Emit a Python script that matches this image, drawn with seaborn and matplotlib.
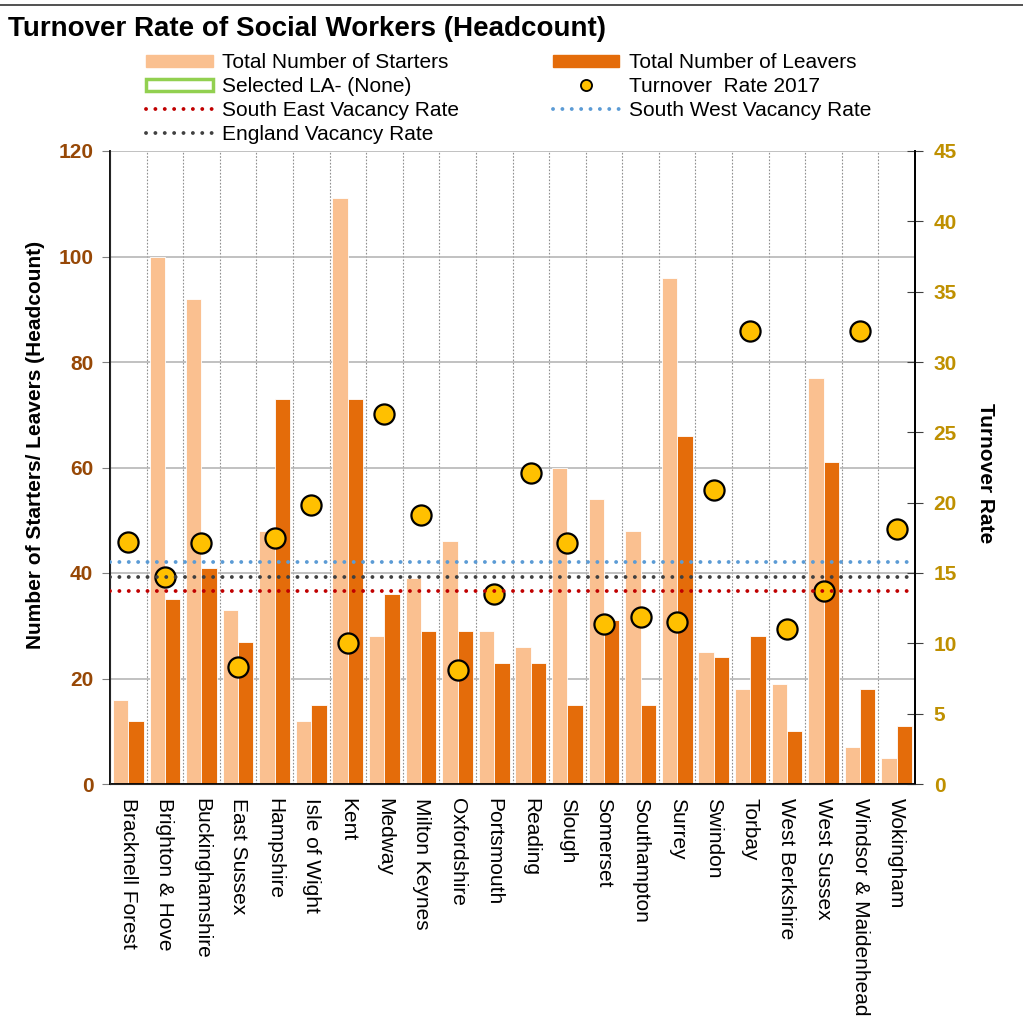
import numpy as np
import pandas as pd
import seaborn as sns
import matplotlib.pyplot as plt
from matplotlib.patches import Patch
from matplotlib.lines import Line2D

las = ["Bracknell Forest", "Brighton & Hove", "Buckinghamshire", "East Sussex",
       "Hampshire", "Isle of Wight", "Kent", "Medway", "Milton Keynes",
       "Oxfordshire", "Portsmouth", "Reading", "Slough", "Somerset",
       "Southampton", "Surrey", "Swindon", "Torbay", "West Berkshire",
       "West Sussex", "Windsor & Maidenhead", "Wokingham"]
starters = [16, 100, 92, 33, 48, 12, 111, 28, 39, 46, 29, 26, 60, 54, 48, 96, 25, 18, 19, 77, 7, 5]
leavers = [12, 35, 41, 27, 73, 15, 73, 36, 29, 29, 23, 23, 15, 31, 15, 66, 24, 28, 10, 61, 18, 11]
turnover = [17.2, 14.7, 17.1, 8.3, 17.5, 19.8, 10.0, 26.3, 19.1, 8.1, 13.5, 22.1,
            17.1, 11.4, 11.9, 11.5, 20.9, 32.2, 11.0, 13.7, 32.2, 18.1]
se_rate = 13.7
sw_rate = 15.8
eng_rate = 14.7

c_start = "#FAC090"
c_leave = "#E46C0A"
c_dot = "#FFC000"
c_left = "#974806"
c_right = "#BF9000"

sns.set_style("white")
plt.rcParams["font.family"] = ["Liberation Sans", "DejaVu Sans"]
plt.rcParams["text.color"] = "black"
plt.rcParams["axes.labelcolor"] = "black"
plt.rcParams["xtick.color"] = "black"

df = pd.DataFrame({"LA": las * 2,
                   "count": starters + leavers,
                   "series": ["Total Number of Starters"] * len(las) + ["Total Number of Leavers"] * len(las)})

fig = plt.figure(figsize=(10.23, 10.25), dpi=100)
ax = fig.add_axes([110 / 1023, 1 - 784 / 1025, 805 / 1023, 633 / 1025])

sns.barplot(data=df, x="LA", y="count", hue="series", order=las,
            palette=[c_start, c_leave], saturation=1, width=0.84,
            edgecolor="white", linewidth=0.6, legend=False, ax=ax, zorder=2)

ax.set_xlim(-0.5, len(las) - 0.5)
ax.set_ylim(0, 120)
ax.set_yticks(np.arange(0, 121, 20))
ax.set_xticks(np.arange(len(las)))
ax.set_xticklabels(las, rotation=-90, fontsize=15, ha="center", va="top", color="black")
ax.set_xticks(np.arange(len(las) - 1) + 0.5, minor=True)
ax.tick_params(axis="x", which="both", length=0, pad=10)
ax.tick_params(axis="y", direction="out", length=6, color="#808080", pad=6,
               labelsize=15, labelcolor=c_left)
for t in ax.get_yticklabels():
    t.set_fontweight("bold")
ax.grid(axis="y", which="major", color="#B0B0B0", linewidth=1.1, zorder=0)
ax.grid(axis="x", which="minor", color="#909090", linewidth=0.8,
        linestyle=(0, (1.5, 1.5)), zorder=0)
ax.set_axisbelow(True)
ax.set_xlabel("")
ax.set_ylabel("Number of Starters/ Leavers (Headcount)", fontsize=15,
              fontweight="bold", va="center", color="black")
ax.yaxis.set_label_coords(-0.093, 0.536)

ax.spines["top"].set_visible(False)
for s in ["left", "bottom", "right"]:
    ax.spines[s].set_color("black")
    ax.spines[s].set_linewidth(1.3)

dot_ls = (0, (0.01, 2.4))

ax2 = ax.twinx()
sns.scatterplot(x=np.arange(len(las)), y=turnover, ax=ax2, s=210, color=c_dot,
                edgecolor="black", linewidth=1.6, zorder=4, legend=False)
dot_style = dict(linestyle=dot_ls, dash_capstyle="round", linewidth=2.8, zorder=5)
ax2.axhline(sw_rate, color="#5B9BD5", **dot_style)
ax2.axhline(eng_rate, color="#404040", **dot_style)
ax2.axhline(se_rate, color="#C00000", **dot_style)
ax2.set_ylim(0, 45)
ax2.set_yticks(np.arange(0, 46, 5))
ax2.tick_params(axis="y", direction="inout", length=11, color="#404040", pad=8,
                labelsize=15, labelcolor=c_right)
for t in ax2.get_yticklabels():
    t.set_fontweight("bold")
ax2.set_ylabel("Turnover Rate", fontsize=15, fontweight="bold", rotation=270,
               va="center", color="black")
ax2.yaxis.set_label_coords(1.087, 0.491)
ax2.spines["top"].set_visible(False)
ax2.spines["right"].set_color("black")
ax2.spines["right"].set_linewidth(1.3)
ax2.grid(False)

handles = [
    Patch(facecolor=c_start, edgecolor=c_start, label="Total Number of Starters"),
    Patch(facecolor="white", edgecolor="#92D050", linewidth=2.5, label="Selected LA- (None)"),
    Line2D([], [], color="#C00000", linestyle=dot_ls, dash_capstyle="round",
           linewidth=2.8, label="South East Vacancy Rate"),
    Line2D([], [], color="#404040", linestyle=dot_ls, dash_capstyle="round",
           linewidth=2.8, label="England Vacancy Rate"),
    Patch(facecolor=c_leave, edgecolor=c_leave, label="Total Number of Leavers"),
    Line2D([], [], linestyle="none", marker="o", markersize=8, markerfacecolor=c_dot,
           markeredgecolor="black", markeredgewidth=1.3, label="Turnover  Rate 2017"),
    Line2D([], [], color="#5B9BD5", linestyle=dot_ls, dash_capstyle="round",
           linewidth=2.8, label="South West Vacancy Rate"),
]
leg = fig.legend(handles=handles, ncol=2, loc="upper left",
                 bbox_to_anchor=(146 / 1023, 1 - 53 / 1025), frameon=False,
                 fontsize=15, borderpad=0, borderaxespad=0, handlelength=3.2,
                 handleheight=0.5, handletextpad=0.45, labelspacing=0.24,
                 columnspacing=4.5)
for t in leg.get_texts():
    t.set_color("black")

fig.text(8 / 1023, 1 - 29 / 1025, "Turnover Rate of Social Workers (Headcount)",
         fontsize=20, fontweight="bold", va="center", ha="left", color="black")
fig.add_artist(Line2D([0, 1], [1 - 5 / 1025, 1 - 5 / 1025], color="#333333",
                      linewidth=1.2, transform=fig.transFigure))

fig.savefig("out.png", dpi=100)
